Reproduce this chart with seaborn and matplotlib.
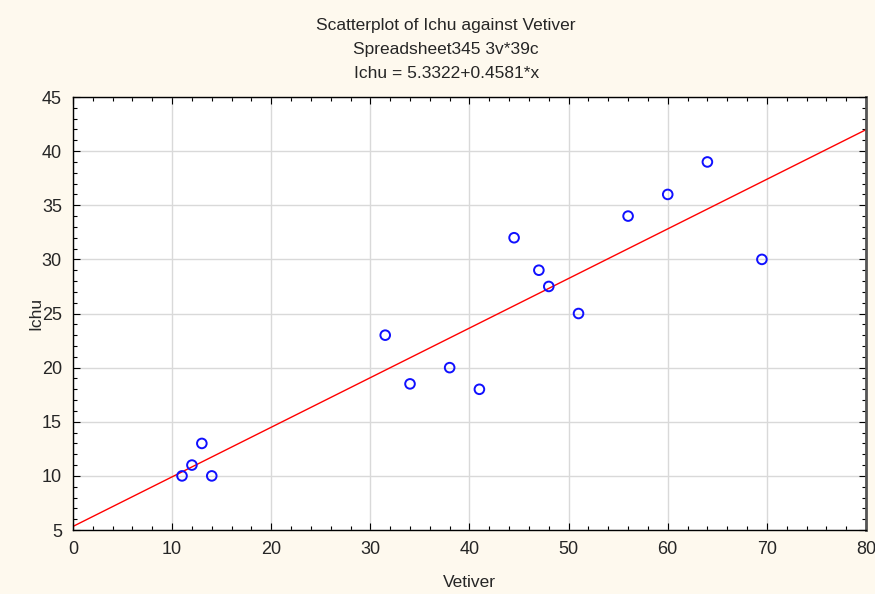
import numpy as np
import pandas as pd
import seaborn as sns
import matplotlib.pyplot as plt
from matplotlib.ticker import MultipleLocator

vetiver = [11, 12, 13, 14, 31.5, 34, 38, 41, 44.5, 47, 48, 51, 56, 60, 64, 69.5]
ichu = [10, 11, 13, 10, 23, 18.5, 20, 18, 32, 29, 27.5, 25, 34, 36, 39, 30]
intercept = 5.3322
slope = 0.4581
titles = ["Scatterplot of Ichu against Vetiver",
          "Spreadsheet345 3v*39c",
          "Ichu = 5.3322+0.4581*x"]

sns.set_style("white")
plt.rcParams['font.family'] = ['Liberation Sans', 'DejaVu Sans']

df = pd.DataFrame({'Vetiver': vetiver, 'Ichu': ichu})
xfit = np.array([0, 80])
fit = pd.DataFrame({'x': xfit, 'y': intercept + slope * xfit})

bg = '#FEF9EE'
fig = plt.figure(figsize=(8.75, 5.94), dpi=100, facecolor=bg)
ax = fig.add_axes([0.0834, 0.1077, 0.9063, 0.729])

sns.lineplot(data=fit, x='x', y='y', color='#FF0000', lw=1, ax=ax, zorder=2)
sns.scatterplot(data=df, x='Vetiver', y='Ichu', ax=ax, s=48, marker='o',
                facecolor='none', edgecolor='#1010FF', linewidth=1.4, zorder=3)

ax.set_xlim(0, 80)
ax.set_ylim(5, 45)
ax.xaxis.set_major_locator(MultipleLocator(10))
ax.xaxis.set_minor_locator(MultipleLocator(2))
ax.yaxis.set_major_locator(MultipleLocator(5))
ax.yaxis.set_minor_locator(MultipleLocator(1))
ax.grid(True, which='major', color='#D9D9D9', lw=1)
ax.set_axisbelow(True)
ax.tick_params(which='both', direction='in', top=True, right=True,
               bottom=True, left=True, labelsize=13, color='black')
ax.tick_params(which='major', length=5, width=0.8, pad=8)
ax.tick_params(which='minor', length=3, width=0.8)
for s in ax.spines.values():
    s.set_color('black')
    s.set_linewidth(1)
ax.spines['right'].set_color('#555555')
ax.spines['right'].set_linewidth(2)

ax.set_xlabel('Vetiver', fontsize=12.5, labelpad=12)
ax.set_ylabel('Ichu', fontsize=12.5, labelpad=-1)

for i, t in enumerate(titles):
    fig.text(0.51, 0.957 - i * 0.0404, t, ha='center', va='center', fontsize=12.5)

fig.savefig('out.png', dpi=100, facecolor=bg)
